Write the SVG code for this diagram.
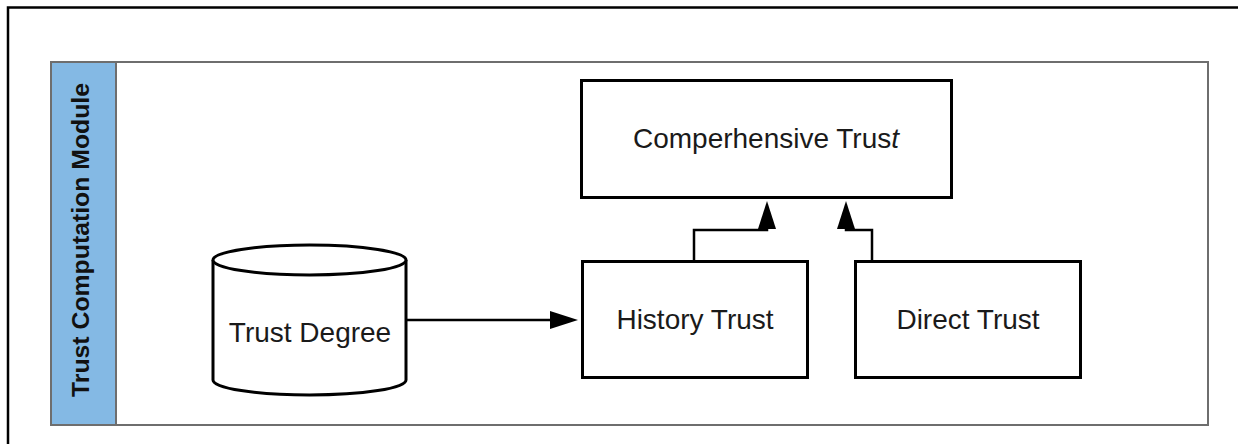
<svg xmlns="http://www.w3.org/2000/svg" width="1238" height="444" viewBox="0 0 1238 444">
  <style>
    .frame { fill: none; stroke: #000; stroke-width: 2.5; }
    .pool { fill: #fff; stroke: #6e6e6e; stroke-width: 2; }
    .pool-head { fill: #84b9e4; stroke: #6e6e6e; stroke-width: 2; }
    .node { fill: #fff; stroke: #000; stroke-width: 3; }
    .link { fill: none; stroke: #000; stroke-width: 2.5; }
    .label { font-family: "Liberation Sans", Arial, sans-serif; font-size: 28px; fill: #1a1a1a; text-anchor: middle; }
    .pool-label { font-family: "Liberation Sans", Arial, sans-serif; font-size: 24.8px; font-weight: bold; fill: #111; text-anchor: middle; }
  </style>
  <defs>
    <marker id="arrow" viewBox="0 0 28 18" refX="0" refY="9" markerWidth="28" markerHeight="18" markerUnits="userSpaceOnUse" orient="auto">
      <path d="M0,0 L28,9 L0,18 Z" fill="#000"/>
    </marker>
  </defs>

  <rect width="1238" height="444" fill="#fff"/>

  <!-- outer page frame: top and left edges -->
  <path class="frame" d="M8,444 V7.5 H1238"/>

  <!-- swimlane pool -->
  <g id="pool">
    <rect class="pool" x="51" y="62" width="1157" height="363"/>
    <rect class="pool-head" x="51" y="62" width="65" height="363"/>
    <text class="pool-label" transform="translate(89,240) rotate(-90)">Trust Computation Module</text>
  </g>

  <!-- connectors -->
  <g id="connectors">
    <path class="link" d="M406,320 H550" marker-end="url(#arrow)"/>
    <path class="link" d="M694,261 V230 H767 V229" marker-end="url(#arrow)"/>
    <path class="link" d="M872,261 V230 H846 V229" marker-end="url(#arrow)"/>
  </g>

  <g id="comprehensive-trust">
    <rect class="node" x="581.5" y="80.5" width="370" height="117"/>
    <text class="label" x="766" y="148">Comperhensive Trus<tspan font-style="italic">t</tspan></text>
  </g>

  <g id="trust-degree">
    <path class="node" d="M213,260 V380 A96.5,15 0 0 0 406,380 V260 A96.5,15 0 0 0 213,260 Z"/>
    <path class="node" d="M213,260 A96.5,15 0 0 0 406,260"/>
    <text class="label" x="310" y="342">Trust Degree</text>
  </g>

  <g id="history-trust">
    <rect class="node" x="582.5" y="261.5" width="225" height="116"/>
    <text class="label" x="695" y="329">History Trust</text>
  </g>

  <g id="direct-trust">
    <rect class="node" x="855.5" y="261.5" width="225" height="116"/>
    <text class="label" x="968" y="329">Direct Trust</text>
  </g>
</svg>
